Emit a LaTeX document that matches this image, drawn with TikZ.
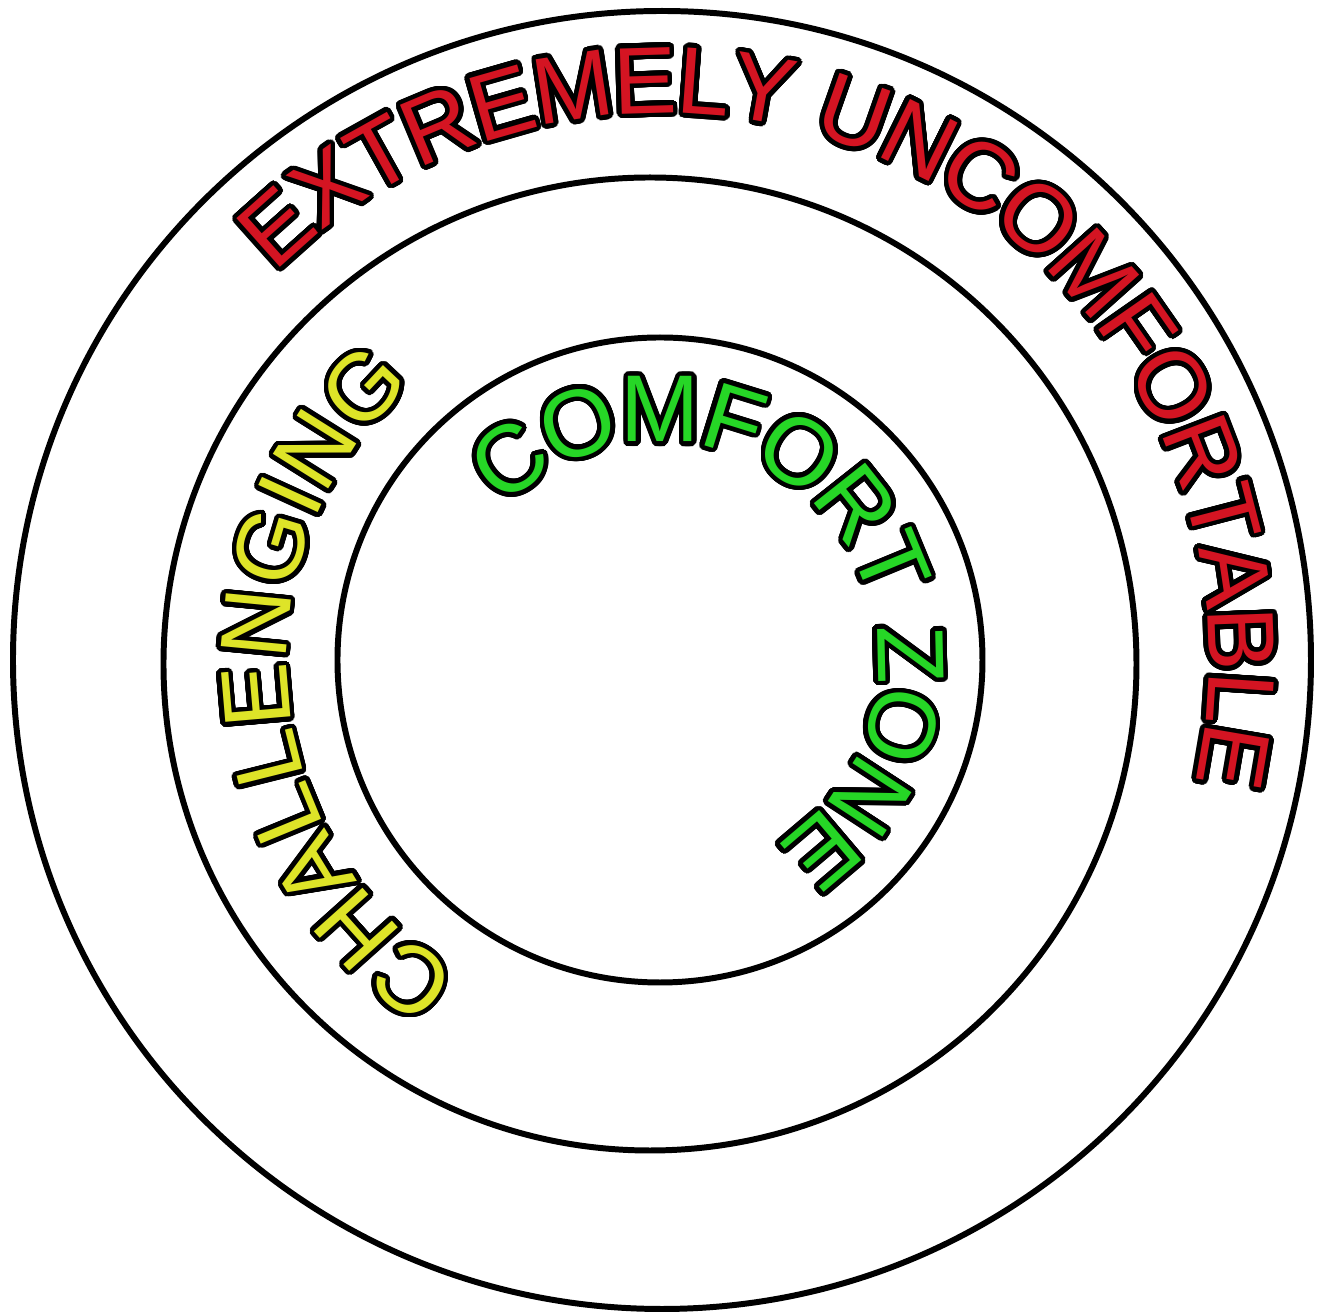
\documentclass[tikz,border=0pt]{standalone}
\usepackage{fontspec}
\setmainfont{Liberation Sans}
\usepackage{contour}
\usetikzlibrary{decorations.text}

\definecolor{uncomfred}{RGB}{212,20,34}
\definecolor{challyellow}{RGB}{222,228,40}
\definecolor{comfgreen}{RGB}{38,214,38}

\contourlength{1.3pt}
\contournumber{40}

\newcommand\redletter[1]{\textcolor{uncomfred}{\contour{black}{#1}}}
\newcommand\yellowletter[1]{\textcolor{challyellow}{\contour{black}{#1}}}
\newcommand\greenletter[1]{\textcolor{comfgreen}{\contour{black}{#1}}}

\tikzset{
  ring/.style={draw,line width=1.7pt},
}

\begin{document}
\fontsize{27}{32}\selectfont
\begin{tikzpicture}
\useasboundingbox (-6.62,-6.54) rectangle (6.62,6.60);
\coordinate (outerc) at (0,0);
\coordinate (midc) at (-0.12,-0.04);
\coordinate (innerc) at (-0.02,0);
\coordinate (textc) at (-0.07,-0.02);

% the three zones
\draw[ring] (outerc) circle (6.49);
\draw[ring] (midc) circle (4.865);
\draw[ring] (innerc) circle (3.225);

% labels along the rings
\path[decorate,decoration={text effects along path,text={EXTREMELY UNCOMFORTABLE},
  text effects/.cd,text along path,fit text to path,character command=\redletter}]
  ([shift={(135:5.47)}]outerc) arc[start angle=135,end angle=-13,radius=5.47];
\path[decorate,decoration={text effects along path,text={CHALLENGING},
  text effects/.cd,text along path,fit text to path,character command=\yellowletter}]
  ([shift={(238:3.68)}]textc) arc[start angle=238,end angle=131,radius=3.68];
\path[decorate,decoration={text effects along path,text={COMFORT ZONE},
  text effects/.cd,text along path,fit text to path,character command=\greenletter}]
  ([shift={(136:2.18)}]innerc) arc[start angle=136,end angle=-58,radius=2.18];
\end{tikzpicture}
\end{document}
